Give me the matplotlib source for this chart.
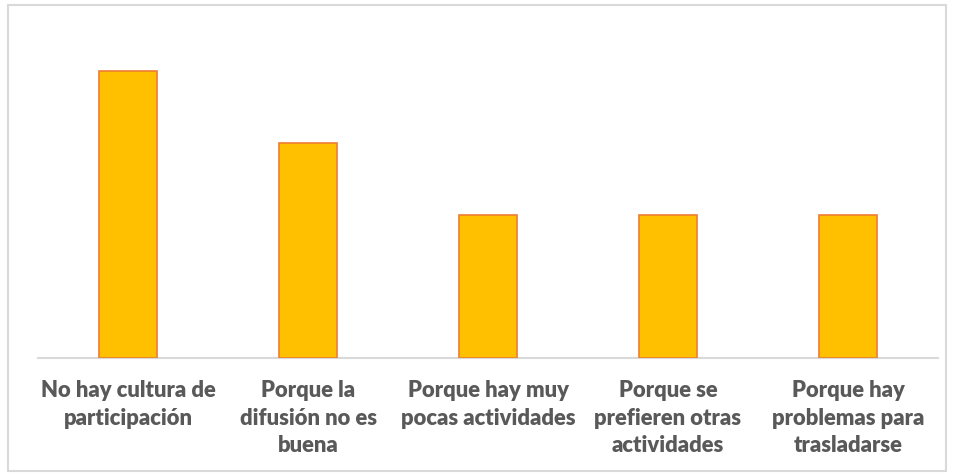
import matplotlib
matplotlib.use("Agg")
import matplotlib.pyplot as plt
from matplotlib.patches import Rectangle

categories = [
    "No hay cultura de\nparticipación",
    "Porque la\ndifusión no es\nbuena",
    "Porque hay muy\npocas actividades",
    "Porque se\nprefieren otras\nactividades",
    "Porque hay\nproblemas para\ntrasladarse",
]
values = [4, 3, 2, 2, 2]

fig = plt.figure(figsize=(9.58, 4.76), dpi=100)
fig.patches.append(Rectangle((8/958, 1 - 471/476), 938/958, 466/476, transform=fig.transFigure,
                             fill=False, edgecolor="#D9D9D9", linewidth=1.5))
ax = fig.add_axes([38/958, (476-358)/476, 900/958, 328/476])
x = list(range(len(values)))
ax.bar(x, values, width=0.32, color="#FFC000", edgecolor="#ED7D31", linewidth=1.2, zorder=3)
ax.set_xlim(-0.5, 4.5)
ax.set_ylim(0, 4 * 328 / 287)
for s in ["top", "right", "left"]:
    ax.spines[s].set_visible(False)
ax.spines["bottom"].set_color("#D9D9D9")
ax.spines["bottom"].set_linewidth(1.5)
ax.set_yticks([])
ax.set_xticks(x)
ax.set_xticklabels(categories, fontfamily="Lato", fontweight="heavy", fontsize=15.8,
                   color="#595959", linespacing=1.38)
ax.tick_params(axis="x", length=0, pad=16)
fig.savefig("out.png", dpi=100)
